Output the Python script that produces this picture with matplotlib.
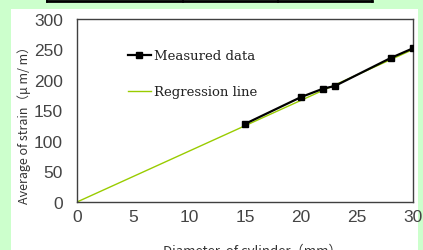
import matplotlib
matplotlib.use("Agg")
import matplotlib.pyplot as plt
from matplotlib.patches import Rectangle
from matplotlib.lines import Line2D

# ---- data ----
diameter_mm = [15, 20, 22, 23, 28, 30]
strain_measured = [128, 172, 186, 190, 236, 252]
reg_x = [0, 30]
reg_y = [0, 250]
x_ticks = [0, 5, 10, 15, 20, 25, 30]
y_ticks = [0, 50, 100, 150, 200, 250, 300]

W, H = 423, 251
fig = plt.figure(figsize=(W / 100, H / 100), dpi=100, facecolor="#ccffcc")

# white panel behind the chart
fig.patches.append(Rectangle((11 / W, 0), (418 - 11) / W, (H - 10) / H,
                             transform=fig.transFigure, facecolor="white",
                             edgecolor="none", zorder=-5))
# bottom edge of the table above the chart
fig.add_artist(Line2D([47 / W, 372 / W], [(H - 1.5) / H] * 2,
                      transform=fig.transFigure, color="black", lw=2))
for xp in (47, 183, 278, 372):
    fig.add_artist(Line2D([xp / W] * 2, [(H - 3) / H, 1.0],
                          transform=fig.transFigure, color="black", lw=1.2))

ax = fig.add_axes([77 / W, (H - 203) / H, (413 - 77) / W, (203 - 20) / H])
ax.set_facecolor("white")

ax.plot(reg_x, reg_y, color="#99cc00", lw=1, label="Regression line", zorder=2)
ax.plot(diameter_mm, strain_measured, color="black", lw=1.6, marker="s",
        markersize=4.5, label="Measured data", zorder=3)

ax.set_xlim(0, 30)
ax.set_ylim(0, 300)
ax.set_xticks(x_ticks)
ax.set_yticks(y_ticks)
ax.tick_params(length=0, labelsize=12.5, colors="#444444", pad=10, axis="y")
ax.tick_params(length=0, labelsize=12.5, colors="#444444", pad=5, axis="x")
for lbl in ax.get_xticklabels() + ax.get_yticklabels():
    lbl.set_fontfamily("Liberation Sans")
for sp in ax.spines.values():
    sp.set_color("#404040")
    sp.set_linewidth(1)

handles, labels = ax.get_legend_handles_labels()
leg = ax.legend(handles[::-1], labels[::-1], loc="upper left",
                bbox_to_anchor=(0.152, 0.834), frameon=False, borderpad=0,
                borderaxespad=0, handlelength=1.7, handletextpad=0.25,
                labelspacing=1.75, prop={"family": "DejaVu Serif", "size": 9.5})
for t in leg.get_texts():
    t.set_color("#222222")

fig.text(24 / W, (H - 122) / H, "Average of strain（μ m/ m）", rotation=90,
         ha="center", va="center", fontsize=9, color="#333333",
         family=["Noto Sans CJK JP", "DejaVu Sans"])
fig.text(252 / W, (H - 244) / H, "Diameter  of cylinder（mm）",
         ha="center", va="top", fontsize=9.5, color="#333333",
         family=["Noto Sans CJK JP", "DejaVu Sans"])

fig.savefig("out.png", dpi=100, facecolor=fig.get_facecolor())
